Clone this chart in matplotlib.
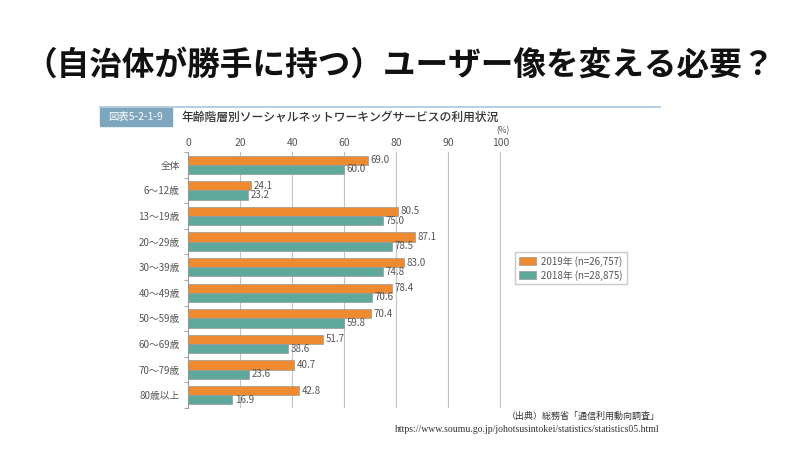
import matplotlib.pyplot as plt
import numpy as np

plt.rcParams['font.family'] = ['Noto Sans CJK JP', 'DejaVu Sans']

# データ
categories = ["全体", "6～12歳", "13～19歳", "20～29歳", "30～39歳",
              "40～49歳", "50～59歳", "60～69歳", "70～79歳", "80歳以上"]
values_2019 = [69.0, 24.1, 80.5, 87.1, 83.0, 78.4, 70.4, 51.7, 40.7, 42.8]
values_2018 = [60.0, 23.2, 75.0, 78.5, 74.8, 70.6, 59.8, 38.6, 23.6, 16.9]
tick_pos = [0, 20, 40, 60, 80, 100, 120]
tick_labels = ["0", "20", "40", "60", "80", "90", "100"]
legend_2019 = "2019年 (n=26,757)"
legend_2018 = "2018年 (n=28,875)"

orange = "#EE8A30"
teal = "#5FA89C"
gray_txt = "#555555"

fig = plt.figure(figsize=(8, 4.49), dpi=100)

# 大見出し
fig.text(0.5, 1-65/449, "（自治体が勝手に持つ）ユーザー像を変える必要？",
         ha="center", va="center", fontsize=23.5, fontweight="bold", color="#111111")

# 図表ヘッダー
fig.add_artist(plt.Line2D([100/800, 660/800], [1-107/449, 1-107/449],
                          color="#A9C6D8", lw=1.2))
fig.add_artist(plt.Rectangle((100/800, 1-126/449), 72/800, 18/449,
                             color="#7FA6BF", transform=fig.transFigure))
fig.text(136/800, 1-117/449, "図表5-2-1-9", ha="center", va="center",
         fontsize=7.5, color="white")
fig.text(181/800, 1-117/449, "年齢階層別ソーシャルネットワーキングサービスの利用状況",
         ha="left", va="center", fontsize=8.5, fontweight="medium", color="#333333")

ax = fig.add_axes([188/800, 1-408/449, 315/800, 256/449])

y = np.arange(len(categories))
h = 0.36
ax.barh(y - h/2, values_2019, height=h, color=orange, edgecolor="#999999",
        linewidth=0.5, label=legend_2019, zorder=3)
ax.barh(y + h/2, values_2018, height=h, color=teal, edgecolor="#999999",
        linewidth=0.5, label=legend_2018, zorder=3)

for yi, v in zip(y, values_2019):
    ax.text(v + 1, yi - h/2, f"{v:.1f}", va="center", ha="left",
            fontsize=7, color=gray_txt)
for yi, v in zip(y, values_2018):
    ax.text(v + 1, yi + h/2, f"{v:.1f}", va="center", ha="left",
            fontsize=7, color=gray_txt)

ax.set_xlim(0, 121)
ax.set_ylim(len(categories) - 0.5, -0.5)
ax.set_yticks(y)
ax.set_yticklabels(categories, fontsize=7, color=gray_txt)
ax.set_yticks(np.arange(len(categories) + 1) - 0.5, minor=True)
ax.tick_params(axis="y", which="major", length=0, pad=6)
ax.tick_params(axis="y", which="minor", length=3, color="#999999", direction="out")

ax.xaxis.tick_top()
ax.set_xticks(tick_pos)
ax.set_xticklabels(tick_labels, fontsize=7.5, color=gray_txt)
ax.tick_params(axis="x", length=0, pad=3)
for t in tick_pos[1:]:
    ax.axvline(t, color="#C4C4C4", lw=0.8, zorder=0)

for s in ["top", "right", "bottom"]:
    ax.spines[s].set_visible(False)
ax.spines["left"].set_color("#999999")

fig.text(503/800, 1-131/449, "(%)", ha="center", va="center", fontsize=6, color=gray_txt)

fig.legend(loc="upper left", bbox_to_anchor=(510/800, 1-247/449),
           fontsize=7, frameon=True, fancybox=False, edgecolor="#BBBBBB",
           handlelength=1.8, handleheight=0.9, borderpad=0.4, labelspacing=0.3,
           handletextpad=0.5, labelcolor=gray_txt)

# 出典
fig.text(660/800, 1-416/449, "（出典）総務省「通信利用動向調査」", ha="right",
         va="center", fontsize=6.5, color="#333333")
fig.text(660/800, 1-430/449,
         "https://www.soumu.go.jp/johotsusintokei/statistics/statistics05.html",
         ha="right", va="center", fontsize=7, color="#333333",
         family=["Liberation Serif", "DejaVu Serif"])

plt.savefig("out.png", dpi=100)
